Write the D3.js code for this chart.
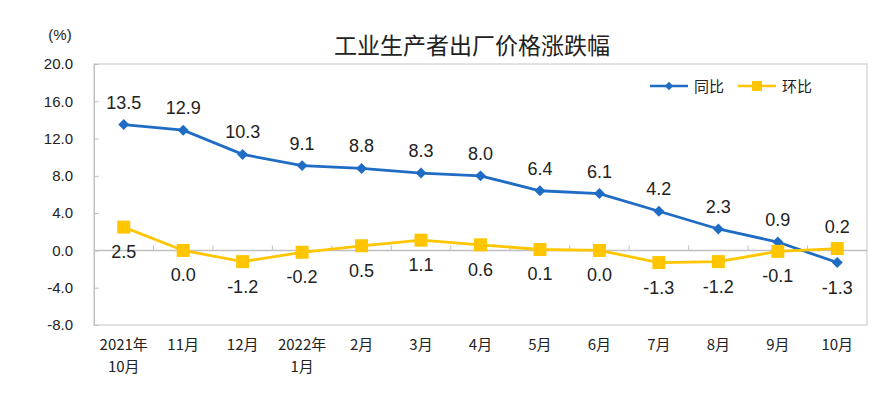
<!DOCTYPE html>
<html>
<head>
<meta charset="utf-8">
<script src="https://cdn.jsdelivr.net/npm/d3@7"></script>
<style>
  body { margin: 0; background: #fff; }
  text { font-family: "Liberation Sans", Arial, "Noto Sans CJK SC", sans-serif; }
</style>
</head>
<body>
<svg width="893" height="396"></svg>
<script>
  // categories (two-line labels)
  const months = [
    ['2021年', '10月'], ['11月'], ['12月'], ['2022年', '1月'], ['2月'], ['3月'],
    ['4月'], ['5月'], ['6月'], ['7月'], ['8月'], ['9月'], ['10月']
  ];
  const yoy = [13.5, 12.9, 10.3, 9.1, 8.8, 8.3, 8.0, 6.4, 6.1, 4.2, 2.3, 0.9, -1.3];
  const mom = [2.5, 0.0, -1.2, -0.2, 0.5, 1.1, 0.6, 0.1, 0.0, -1.3, -1.2, -0.1, 0.2];
  const yTicks = [20, 16, 12, 8, 4, 0, -4, -8];
  // label placement: true = above point
  const yoyAbove = [true, true, true, true, true, true, true, true, true, true, true, true, false];
  const momAbove = [false, false, false, false, false, false, false, false, false, false, false, false, true];

  const blue = '#1f6cc4';
  const yellow = '#ffc600';
  const fmt = d => d3.format('.1f')(d).replace('−', '-');

  const svg = d3.select('svg');
  const margin = { left: 94, right: 26, top: 64, bottom: 71 };
  const width = 893 - margin.left - margin.right;
  const height = 396 - margin.top - margin.bottom;

  const x = d3.scaleBand().domain(d3.range(months.length)).range([0, width]);
  const y = d3.scaleLinear().domain([-8, 20]).range([height, 0]);
  const cx = i => x(i) + x.bandwidth() / 2;

  // title and unit
  svg.append('text')
    .attr('x', 472).attr('y', 54)
    .attr('text-anchor', 'middle')
    .attr('font-size', 23)
    .attr('fill', '#222')
    .style('font-family', '"Noto Sans CJK SC", sans-serif')
    .text('工业生产者出厂价格涨跌幅');

  svg.append('text')
    .attr('x', 60).attr('y', 40)
    .attr('text-anchor', 'middle')
    .attr('font-size', 15)
    .attr('fill', '#222')
    .text('(%)');

  const g = svg.append('g').attr('transform', `translate(${margin.left},${margin.top})`);

  // plot frame
  g.append('rect')
    .attr('width', width).attr('height', height)
    .attr('fill', 'none').attr('stroke', '#d9d9d9').attr('stroke-width', 1.5);

  // y axis
  const yAxis = g.append('g').call(d3.axisLeft(y).tickValues(yTicks).tickSize(-5).tickPadding(21)
    .tickFormat(fmt));
  yAxis.select('.domain').attr('stroke', '#bfbfbf');
  yAxis.selectAll('.tick line').attr('stroke', '#bfbfbf');
  yAxis.selectAll('.tick text').attr('font-size', 15).attr('fill', '#222')
    .style('font-family', '"Liberation Sans", Arial, sans-serif');

  // zero line with category ticks
  g.append('line')
    .attr('x1', 0).attr('x2', width)
    .attr('y1', y(0)).attr('y2', y(0))
    .attr('stroke', '#bfbfbf').attr('stroke-width', 1.5);
  g.selectAll('.cattick').data(d3.range(1, months.length)).enter().append('line')
    .attr('x1', d => x(d)).attr('x2', d => x(d))
    .attr('y1', y(0)).attr('y2', y(0) - 5)
    .attr('stroke', '#bfbfbf');

  // x labels
  const xl = g.selectAll('.xlab').data(months).enter().append('text')
    .attr('text-anchor', 'middle')
    .attr('font-size', 15)
    .attr('fill', '#222')
    .style('font-family', '"Noto Sans CJK SC", sans-serif');
  xl.each(function (d, i) {
    d3.select(this).selectAll('tspan').data(d).enter().append('tspan')
      .attr('x', cx(i))
      .attr('y', (t, j) => height + 25 + j * 22)
      .text(t => t);
  });

  const line = d3.line().x((d, i) => cx(i)).y(d => y(d));

  // 同比
  g.append('path').datum(yoy)
    .attr('d', line).attr('fill', 'none')
    .attr('stroke', blue).attr('stroke-width', 2.8);
  g.selectAll('.dia').data(yoy).enter().append('path')
    .attr('d', d3.symbol(d3.symbolSquare, 60))
    .attr('transform', (d, i) => `translate(${cx(i)},${y(d)}) rotate(45)`)
    .attr('fill', blue);

  // 环比
  g.append('path').datum(mom)
    .attr('d', line).attr('fill', 'none')
    .attr('stroke', yellow).attr('stroke-width', 2.8);
  g.selectAll('.sq').data(mom).enter().append('rect')
    .attr('x', (d, i) => cx(i) - 6.5).attr('y', d => y(d) - 6.5)
    .attr('width', 13).attr('height', 13)
    .attr('fill', yellow);

  // data labels
  const lab = (data, above) => g.selectAll(null).data(data).enter().append('text')
    .attr('x', (d, i) => cx(i))
    .attr('y', (d, i) => y(d) + (above[i] ? -16 : 31))
    .attr('text-anchor', 'middle')
    .attr('font-size', 18)
    .attr('fill', '#222')
    .text(fmt);
  lab(yoy, yoyAbove);
  lab(mom, momAbove);

  // legend
  const lg = g.append('g').attr('transform', `translate(556,22)`);
  lg.append('line').attr('x1', 0).attr('x2', 38).attr('stroke', blue).attr('stroke-width', 2.5);
  lg.append('path').attr('d', d3.symbol(d3.symbolSquare, 36)).attr('transform', 'translate(19,0) rotate(45)').attr('fill', blue);
  lg.append('text').attr('x', 44).attr('y', 6).attr('font-size', 15).attr('fill', '#222')
    .style('font-family', '"Noto Sans CJK SC", sans-serif').text('同比');
  lg.append('line').attr('x1', 88).attr('x2', 126).attr('stroke', yellow).attr('stroke-width', 2.5);
  lg.append('rect').attr('x', 102).attr('y', -5).attr('width', 10).attr('height', 10).attr('fill', yellow);
  lg.append('text').attr('x', 132).attr('y', 6).attr('font-size', 15).attr('fill', '#222')
    .style('font-family', '"Noto Sans CJK SC", sans-serif').text('环比');
</script>
</body>
</html>
